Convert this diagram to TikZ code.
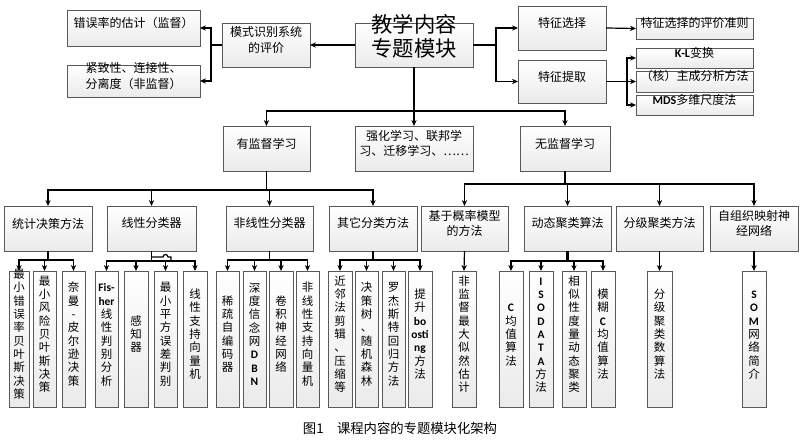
\documentclass[tikz,border=0pt]{standalone}
\usepackage{fontspec}
\setmainfont{Noto Sans CJK SC}
\newfontfamily\lat{Carlito}
\usetikzlibrary{arrows.meta,fit,shadows}
\newcommand\LL[1]{{\lat\bfseries #1}}
\tikzset{
 box/.style={draw=black!65, line width=0.6pt, top color=white, bottom color=black!8,
   inner sep=0pt, outer sep=0pt, align=center, font=\fontsize{9}{11.5}\selectfont,
   drop shadow={shadow xshift=0.8pt, shadow yshift=-0.8pt, opacity=0.25, fill=black}},
 leaf/.style={box, font=\fontsize{8.6}{10}\selectfont},
 arr/.style={line width=0.9pt, -{Stealth[length=4.5pt,width=4pt]}},
 ln/.style={line width=0.9pt},
}
\begin{document}
\begin{tikzpicture}[x=0.75pt,y=-0.75pt]
\useasboundingbox[fill=white] (0,0) rectangle (800,441);
% top row
\node[box, fit={(67,10)(200,46)}] (err) {错误率的估计（监督）};
\node[box, fit={(67,65)(200,97)}] (cmp) {紧致性、连接性、\\分离度（非监督）};
\node[box, fit={(222,23)(310,67)}] (eval) {模式识别系统\\的评价};
\node[box, fit={(355,23)(473,67)}, font=\fontsize{16}{18}\selectfont] (main) {教学内容\\专题模块};
\node[box, fit={(518,6)(606,50)}] (fs) {特征选择};
\node[box, fit={(518,60)(606,103)}] (fe) {特征提取};
\node[box, fit={(636,18)(753,39)}] (fsc) {特征选择的评价准则};
\node[box, fit={(636,48)(753,68)}] (kl) {\LL{K-L}变换};
\node[box, fit={(636,71)(753,92)}] (pca) {（核）主成分析方法};
\node[box, fit={(636,95)(753,115)}] (mds) {\LL{MDS}多维尺度法};
% second row
\node[box, fit={(223,126)(310,171)}] (sup) {有监督学习};
\node[box, fit={(355,126)(473,171)}] (rl) {强化学习、联邦学\\习、迁移学习、……};
\node[box, fit={(520,126)(610,171)}] (uns) {无监督学习};
% third row
\node[box, fit={(4,206)(92,251)}] (c1) {统计决策方法};
\node[box, fit={(107,206)(196,251)}] (c2) {线性分类器};
\node[box, fit={(226,206)(313,251)}] (c3) {非线性分类器};
\node[box, fit={(329,206)(417,251)}] (c4) {其它分类方法};
\node[box, fit={(421,206)(508,251)}] (u1) {基于概率模型\\的方法};
\node[box, fit={(524,206)(611,251)}] (u2) {动态聚类算法};
\node[box, fit={(616,206)(703,251)}] (u3) {分级聚类方法};
\node[box, fit={(710,206)(798,251)}] (u4) {自组织映射神\\经网络};
% leaves
\node[leaf, fit={(9,271)(29,407)}] (l1) {最\\小\\错\\误\\率\\贝\\叶\\斯\\决\\策};
\node[leaf, fit={(33,271)(56,407)}] (l2) {最\\小\\风\\险\\贝\\叶\\斯\\决\\策};
\node[leaf, fit={(62,271)(85,407)}] (l3) {奈\\曼\\-\\皮\\尔\\逊\\决\\策};
\node[leaf, fit={(95,271)(118,407)}] (l4) {\LL{Fis-}\\\LL{her}\\线\\性\\判\\别\\分\\析};
\node[leaf, fit={(124,271)(148,407)}] (l5) {感\\知\\器};
\node[leaf, fit={(154,271)(177,407)}] (l6) {最\\小\\平\\方\\误\\差\\判\\别};
\node[leaf, fit={(183,271)(207,407)}] (l7) {线\\性\\支\\持\\向\\量\\机};
\node[leaf, fit={(216,271)(239,407)}] (l8) {稀\\疏\\自\\编\\码\\器};
\node[leaf, fit={(243,271)(266,407)}] (l9) {深\\度\\信\\念\\网\\\LL{D}\\\LL{B}\\\LL{N}};
\node[leaf, fit={(269,271)(293,407)}] (l10) {卷\\积\\神\\经\\网\\络};
\node[leaf, fit={(296,271)(319,407)}] (l11) {非\\线\\性\\支\\持\\向\\量\\机};
\node[leaf, fit={(328,271)(352,407)}] (l12) {近\\邻\\法\\剪\\辑\\、\\压\\缩\\等};
\node[leaf, fit={(355,271)(378,407)}] (l13) {决\\策\\树\\、\\随\\机\\森\\林};
\node[leaf, fit={(382,271)(405,407)}] (l14) {罗\\杰\\斯\\特\\回\\归\\方\\法};
\node[leaf, fit={(408,271)(432,407)}] (l15) {提\\升\\\LL{bo}\\\LL{osti}\\\LL{ng}\\方\\法};
\node[leaf, fit={(452,271)(476,407)}] (m1) {非\\监\\督\\最\\大\\似\\然\\估\\计};
\node[leaf, fit={(499,271)(523,407)}] (m2) {\LL{C}\\均\\值\\算\\法};
\node[leaf, fit={(529,271)(553,407)}] (m3) {\LL{I}\\\LL{S}\\\LL{O}\\\LL{D}\\\LL{A}\\\LL{T}\\\LL{A}\\方\\法};
\node[leaf, fit={(562,271)(586,407)}] (m4) {相\\似\\性\\度\\量\\动\\态\\聚\\类};
\node[leaf, fit={(591,271)(615,407)}] (m5) {模\\糊\\\LL{C}\\均\\值\\算\\法};
\node[leaf, fit={(647,271)(672,407)}] (m6) {分\\级\\聚\\类\\数\\算\\法};
\node[leaf, fit={(742,271)(766,407)}] (m7) {\LL{S}\\\LL{O}\\\LL{M}\\网\\络\\简\\介};
% caption
\node[font=\fontsize{10}{12}\selectfont] (cap) at (400,428) {图1\quad 课程内容的专题模块化架构};
% connectors top
\draw[arr] (main.west) -- (eval.east);
\coordinate (j1) at (211,45);
\draw[ln] (eval.west) -- (j1);
\draw[arr] (j1) |- (err.east);
\draw[arr] (j1) |- (cmp.east);
\coordinate (j2) at (496,45);
\draw[ln] (main.east) -- (j2);
\draw[arr] (j2) |- (fs.west);
\draw[arr] (j2) |- (fe.west);
\draw[arr] (fs.east) -- (fsc.west);
\coordinate (j3) at (627,81.5);
\draw[ln] (fe.east) -- (j3);
\draw[arr] (j3) |- (kl.west);
\draw[arr] (j3) -- (pca.west);
\draw[arr] (j3) |- (mds.west);
% to second row
\draw[arr] (main.south) -- (rl.north);
\coordinate (j4) at (414,111);
\draw[arr] (j4) -| (sup.north);
\draw[arr] (j4) -| (uns.north);
% to third row
\coordinate (j5) at (266.5,190);
\draw[ln] (sup.south) -- (j5);
\foreach \n in {c1,c2,c3,c4} \draw[arr] (j5) -| (\n.north);
\coordinate (j6) at (565,184);
\draw[ln] (uns.south) -- (j6);
\foreach \n in {u1,u2,u3,u4} \draw[arr] (j6) -| (\n.north);
% to leaves
\coordinate (k1) at (48,260);
\draw[ln] (c1.south) -- (k1);
\foreach \n in {l1,l2,l3} \draw[arr] (k1) -| (\n.north);
\coordinate (k2) at (151.5,261);
\draw[ln] (c2.south) -- (k2);
\foreach \n in {l4,l5,l6,l7} \draw[arr] (k2) -| (\n.north);
\draw[ln] (151.5,257) -- (163,257) arc[start angle=180, end angle=360, radius=2.5] -- (171,257) -- (171,261);
\coordinate (k3) at (269.5,260);
\draw[ln] (c3.south) -- (k3);
\foreach \n in {l8,l9,l10,l11} \draw[arr] (k3) -| (\n.north);
\coordinate (k4) at (373,260);
\draw[ln] (c4.south) -- (k4);
\foreach \n in {l12,l13,l14,l15} \draw[arr] (k4) -| (\n.north);
\draw[arr] (u1.south) -- (m1.north);
\coordinate (k5) at (567.5,261);
\draw[line width=1.8pt] (u2.south) -- (k5);
\foreach \n in {m2,m3,m4,m5} \draw[arr] (k5) -| (\n.north);
\draw[arr] (u3.south) -- (m6.north);
\draw[arr] (u4.south) -- (m7.north);
\end{tikzpicture}
\end{document}
